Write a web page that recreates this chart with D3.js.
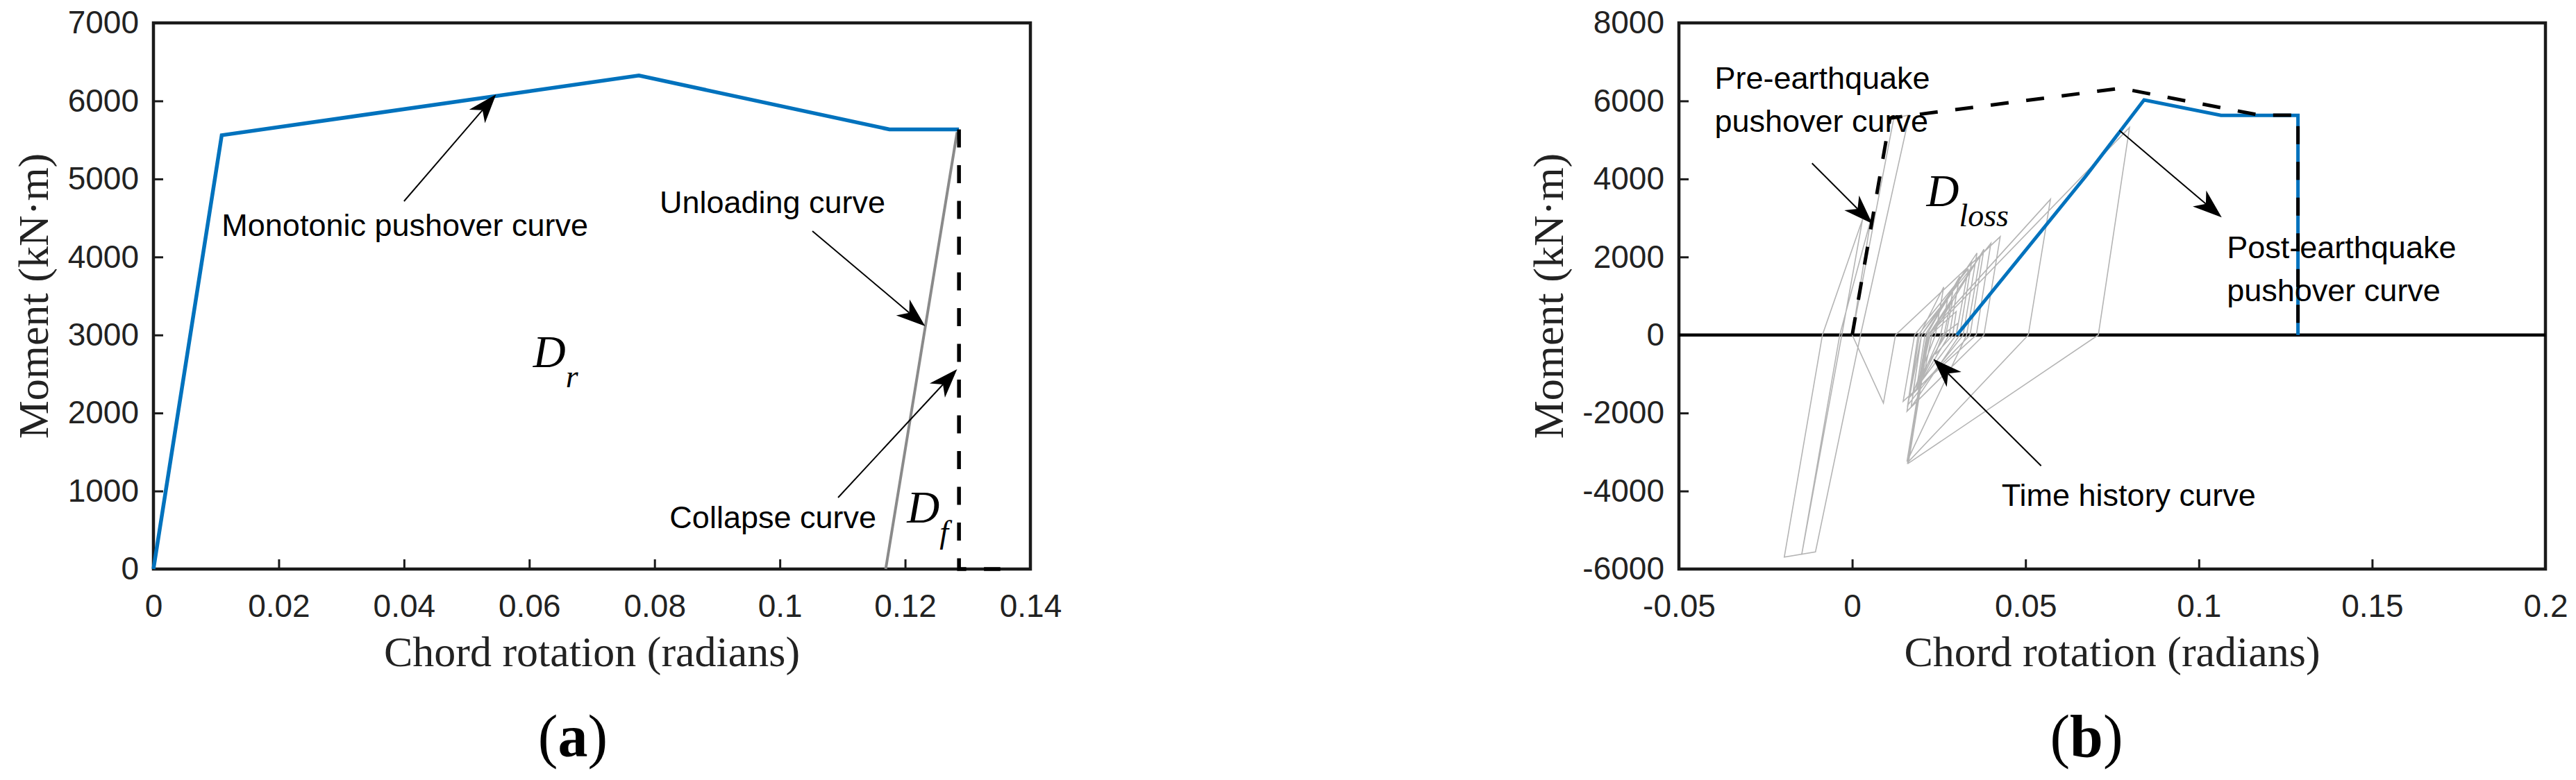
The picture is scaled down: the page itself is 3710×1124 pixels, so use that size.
<!DOCTYPE html>
<html>
<head>
<meta charset="utf-8">
<script src="https://cdn.jsdelivr.net/npm/d3@7"></script>
<style>
  body { margin: 0; background: #fff; }
  svg { display: block; }
</style>
</head>
<body>
<svg id="chart" width="3710" height="1124"></svg>
<script>
// ---------- data (rotation in radians, moment in kN·m) ----------
// panel (a)
const pushoverTheta = [0, 0.0109, 0.0775, 0.1175, 0.1286]
const pushoverMoment = [0, 5560, 6325, 5635, 5635]
const unloadTheta = [0.1169, 0.1283]
const unloadMoment = [0, 5600]
const collapseTheta = [0.1286, 0.1286, 0.1352]
const collapseMoment = [5635, 0, 0]

// panel (b)
const preTheta = [0, 0.0109, 0.0775, 0.1175, 0.1286, 0.1286]
const preMoment = [0, 5560, 6325, 5635, 5635, 0]
const postTheta = [0.0302, 0.0672, 0.0842, 0.1064, 0.1286, 0.1286]
const postMoment = [0, 4050, 6025, 5630, 5630, 0]
const historyTheta = [
  0, 0.0120, 0.0165, 0.0024, -0.0106, -0.0196, -0.0086, 0.0030, -0.0030, -0.0146,
  -0.0036, 0.0054, 0.0000, 0.0090, 0.0125, 0.0427, 0.0380, 0.0158, 0.0194, 0.0264,
  0.0240, 0.0175, 0.0200, 0.0360, 0.0320, 0.0160, 0.0190, 0.0400, 0.0358, 0.0147,
  0.0180, 0.0335, 0.0300, 0.0190, 0.0215, 0.0310, 0.0280, 0.0205, 0.0230, 0.0380,
  0.0340, 0.0165, 0.0200, 0.0290, 0.0265, 0.0185, 0.0210, 0.0345, 0.0310, 0.0170,
  0.0200, 0.0275, 0.0255, 0.0195, 0.0220, 0.0370, 0.0330, 0.0158, 0.0217, 0.0572,
  0.0508, 0.0160, 0.0220, 0.0800, 0.0710, 0.0162, 0.0222, 0.0290, 0.0270, 0.0200,
  0.0225, 0.0300, 0.0290, 0.0240, 0.0260, 0.0305, 0.0300
]
const historyMoment = [
  0, 5560, 5640, 0, -5560, -5695, 0, 2970, 0, -5642,
  0, 2975, 0, -1745, 0, 2520, 0, -1955, 0, 1230,
  0, -1500, 0, 2100, 0, -1800, 0, 2350, 0, -1700,
  0, 1700, 0, -1300, 0, 1500, 0, -1100, 0, 2200,
  0, -1600, 0, 1100, 0, -1400, 0, 1900, 0, -1850,
  0, 900, 0, -1200, 0, 2050, 0, -3245, 0, 3480,
  0, -3270, 0, 5320, 0, -3290, 0, 900, 0, -1000,
  0, 600, 0, -500, 0, 300, 0
]

// ticks
const xTicksA = [0, 0.02, 0.04, 0.06, 0.08, 0.1, 0.12, 0.14]
const xLabelsA = ['0', '0.02', '0.04', '0.06', '0.08', '0.1', '0.12', '0.14']
const yTicksA = [0, 1000, 2000, 3000, 4000, 5000, 6000, 7000]
const yLabelsA = ['0', '1000', '2000', '3000', '4000', '5000', '6000', '7000']
const xTicksB = [-0.05, 0, 0.05, 0.1, 0.15, 0.2]
const xLabelsB = ['-0.05', '0', '0.05', '0.1', '0.15', '0.2']
const yTicksB = [-6000, -4000, -2000, 0, 2000, 4000, 6000, 8000]
const yLabelsB = ['-6000', '-4000', '-2000', '0', '2000', '4000', '6000', '8000']

// annotations, anchored in data units
const notesA = [
  { text: 'Monotonic pushover curve', x: 0.0109, y: 4269 },
  { text: 'Unloading curve', x: 0.0808, y: 4563 },
  { text: 'Collapse curve', x: 0.0824, y: 525 }
]
const arrowsA = [
  { tx: 0.0400, ty: 4714, hx: 0.0547, hy: 6084 },
  { tx: 0.1052, ty: 4332, hx: 0.1232, hy: 3113 },
  { tx: 0.1093, ty: 916, hx: 0.1283, hy: 2562 }
]
const symbolsA = [
  { main: 'D', sub: 'r', x: 0.0606, y: 2588 },
  { main: 'D', sub: 'f', x: 0.1203, y: 596 }
]
const notesB = [
  { text: 'Pre-earthquake', x: -0.0397, y: 6310 },
  { text: 'pushover curve', x: -0.0397, y: 5203 },
  { text: 'Post-earthquake', x: 0.1081, y: 1969 },
  { text: 'pushover curve', x: 0.1081, y: 866 },
  { text: 'Time history curve', x: 0.0431, y: -4381 }
]
const arrowsB = [
  { tx: -0.0116, ty: 4403, hx: 0.0058, hy: 2856 },
  { tx: 0.0771, ty: 5242, hx: 0.1066, hy: 3015 },
  { tx: 0.0545, ty: -3353, hx: 0.0234, hy: -613 }
]
const symbolsB = [
  { main: 'D', sub: 'loss', x: 0.0214, y: 3298 }
]

// ---------- drawing ----------
const svg = d3.select('#chart')
const SANS = '"Liberation Sans", Arial, sans-serif'
const SERIF = '"Liberation Serif", "Times New Roman", serif'
const BLUE = '#0072BD'
const DASH = '26,25.5'

function zip(xs, ys) {
  return xs.map((d, i) => [d, ys[i]])
}

function drawPanel(cfg) {
  const g = svg.append('g')
  const x = d3.scaleLinear().domain(cfg.xDomain).range([cfg.left, cfg.right])
  const y = d3.scaleLinear().domain(cfg.yDomain).range([cfg.bottom, cfg.top])

  // axes (ticks point inward)
  const xAxis = d3.axisBottom(x)
    .tickValues(cfg.xTicks)
    .tickFormat((d, i) => cfg.xLabels[i])
    .tickSizeInner(-14).tickSizeOuter(0).tickPadding(36)
  const yAxis = d3.axisLeft(y)
    .tickValues(cfg.yTicks)
    .tickFormat((d, i) => cfg.yLabels[i])
    .tickSizeInner(-14).tickSizeOuter(0).tickPadding(21)

  const gx = g.append('g').attr('transform', `translate(0,${cfg.bottom})`).call(xAxis)
  const gy = g.append('g').attr('transform', `translate(${cfg.left},0)`).call(yAxis)
  for (const a of [gx, gy]) {
    a.select('.domain').remove()
    a.selectAll('.tick line').attr('stroke', '#1a1a1a').attr('stroke-width', 3)
    a.selectAll('.tick text')
      .attr('fill', '#222')
      .style('font-family', SANS)
      .style('font-size', '46px')
  }

  // frame
  g.append('rect')
    .attr('x', cfg.left).attr('y', cfg.top)
    .attr('width', cfg.right - cfg.left).attr('height', cfg.bottom - cfg.top)
    .attr('fill', 'none').attr('stroke', '#1a1a1a').attr('stroke-width', 4.5)

  if (cfg.zeroLine) {
    g.append('line')
      .attr('x1', cfg.left).attr('x2', cfg.right)
      .attr('y1', y(0)).attr('y2', y(0))
      .attr('stroke', '#000').attr('stroke-width', 4.5)
  }

  const line = d3.line().x(d => x(d[0])).y(d => y(d[1]))

  const curves = g.append('g').attr('class', 'curves')
  cfg.curves.forEach(c => {
    curves.append('path')
      .attr('d', line(c.pts))
      .attr('fill', 'none')
      .attr('stroke', c.color)
      .attr('stroke-width', c.width)
      .attr('stroke-dasharray', c.dash || null)
      .attr('stroke-linejoin', 'miter')
  })

  // annotations
  cfg.notes.forEach(n => {
    g.append('text')
      .attr('x', x(n.x)).attr('y', y(n.y))
      .style('font-family', SANS).style('font-size', '45px')
      .attr('fill', '#000')
      .text(n.text)
  })

  cfg.symbols.forEach(s => {
    const t = g.append('text')
      .attr('x', x(s.x)).attr('y', y(s.y))
      .style('font-family', SERIF).style('font-style', 'italic')
      .attr('fill', '#000')
    t.append('tspan').style('font-size', '65px').text(s.main)
    t.append('tspan').style('font-size', '46px').attr('dy', 29).text(s.sub)
  })

  cfg.arrows.forEach(a => {
    const x1 = x(a.tx), y1 = y(a.ty), x2 = x(a.hx), y2 = y(a.hy)
    const ang = Math.atan2(y2 - y1, x2 - x1)
    const ux = Math.cos(ang), uy = Math.sin(ang)
    const L = 42, W = 15, N = 30
    const nx = x2 - N * ux, ny = y2 - N * uy
    g.append('line')
      .attr('x1', x1).attr('y1', y1).attr('x2', nx).attr('y2', ny)
      .attr('stroke', '#000').attr('stroke-width', 2)
    const pts = [
      [x2, y2],
      [x2 - L * ux - W * uy, y2 - L * uy + W * ux],
      [nx, ny],
      [x2 - L * ux + W * uy, y2 - L * uy - W * ux]
    ]
    g.append('polygon').attr('points', pts.map(p => p.join(',')).join(' ')).attr('fill', '#000')
  })

  // axis titles
  const midX = (cfg.left + cfg.right) / 2
  const midY = (cfg.top + cfg.bottom) / 2
  g.append('text')
    .attr('x', midX).attr('y', 960)
    .attr('text-anchor', 'middle')
    .style('font-family', SERIF).style('font-size', '62px')
    .attr('fill', '#222')
    .text('Chord rotation (radians)')
  g.append('text')
    .attr('transform', `translate(${cfg.yTitleX},${midY}) rotate(-90)`)
    .attr('text-anchor', 'middle')
    .style('font-family', SERIF).style('font-size', '62px')
    .attr('fill', '#222')
    .text('Moment (kN\u00b7m)')

  // caption
  const cap = g.append('text')
    .attr('x', cfg.captionX).attr('y', 1090)
    .attr('text-anchor', 'middle')
    .style('font-family', SERIF).style('font-size', '86px')
    .attr('fill', '#000')
  cap.append('tspan').text('(')
  cap.append('tspan').style('font-weight', 'bold').text(cfg.caption)
  cap.append('tspan').text(')')
}

drawPanel({
  left: 221, right: 1484, top: 33, bottom: 820,
  xDomain: [0, 0.14], yDomain: [0, 7000],
  xTicks: xTicksA, xLabels: xLabelsA, yTicks: yTicksA, yLabels: yLabelsA,
  yTitleX: 69, caption: 'a', captionX: 825,
  curves: [
    { pts: zip(pushoverTheta, pushoverMoment), color: BLUE, width: 5.5 },
    { pts: zip(unloadTheta, unloadMoment), color: '#8a8a8a', width: 4 },
    { pts: zip(collapseTheta, collapseMoment), color: '#000', width: 5.5, dash: DASH }
  ],
  notes: notesA, arrows: arrowsA, symbols: symbolsA
})

drawPanel({
  left: 2418, right: 3666, top: 33, bottom: 820,
  xDomain: [-0.05, 0.2], yDomain: [-6000, 8000],
  xTicks: xTicksB, xLabels: xLabelsB, yTicks: yTicksB, yLabels: yLabelsB,
  yTitleX: 2251, caption: 'b', captionX: 3005, zeroLine: true,
  curves: [
    { pts: zip(historyTheta, historyMoment), color: '#b4b4b4', width: 1.6 },
    { pts: zip(postTheta, postMoment), color: BLUE, width: 5 },
    { pts: zip(preTheta, preMoment), color: '#000', width: 5, dash: DASH }
  ],
  notes: notesB, arrows: arrowsB, symbols: symbolsB
})
</script>
</body>
</html>
